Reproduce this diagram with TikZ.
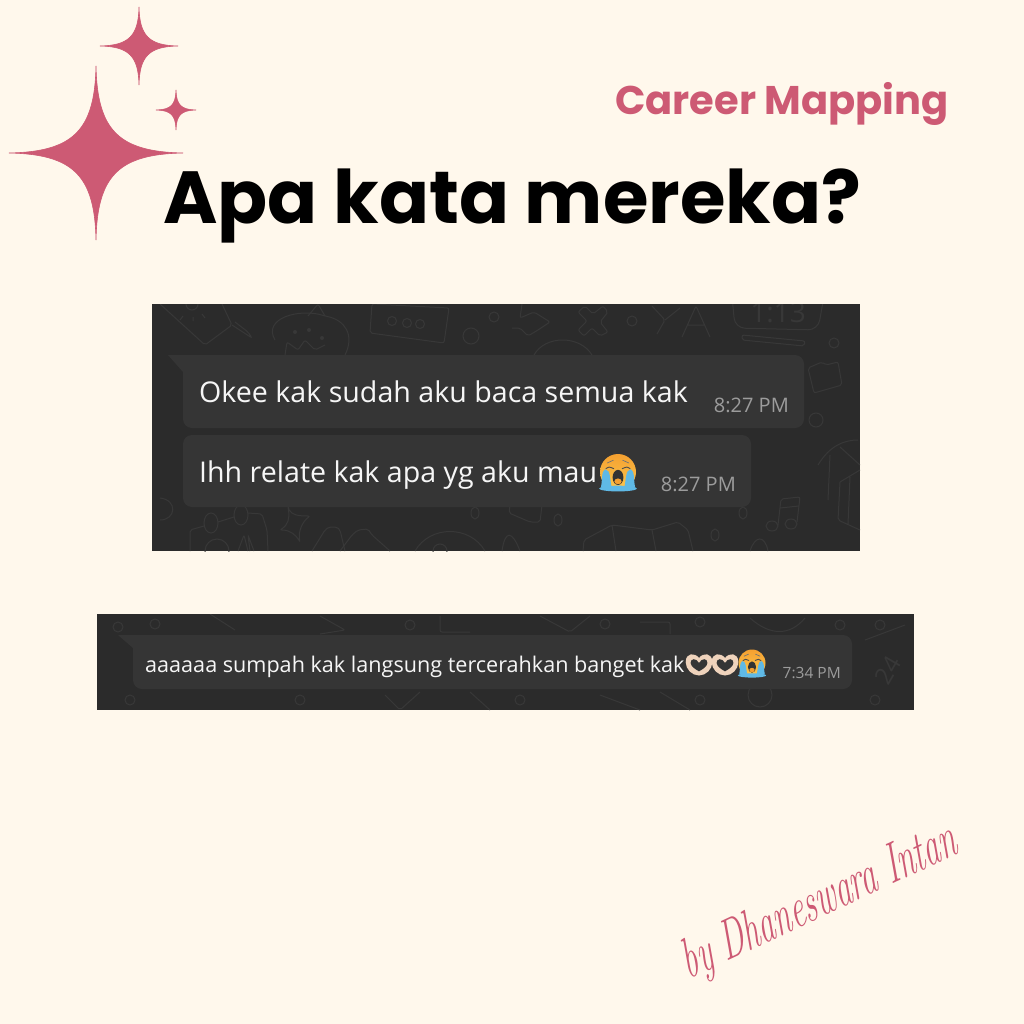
\documentclass[tikz,border=0pt]{standalone}
\usepackage{fontspec}
\setmainfont{Poppins}
\newfontfamily\chatfont{Open Sans}
\newfontfamily\signfont{Latin Modern Roman}
\definecolor{paper}{HTML}{FFF8EC}
\definecolor{rosepink}{HTML}{CD5A74}
\definecolor{panelgrey}{HTML}{2B2B2B}
\definecolor{bubblegrey}{HTML}{353535}
\definecolor{doodlegrey}{HTML}{383838}
\definecolor{timegrey}{HTML}{9C9C9C}
\definecolor{chatwhite}{HTML}{F6F6F6}
\definecolor{faceyellow}{HTML}{FBC84F}
\definecolor{faceorange}{HTML}{F5A030}
\definecolor{tearblue}{HTML}{5FB9E6}
\definecolor{handpeach}{HTML}{EFD3BC}
\tikzset{
	panelbox/.style={fill=panelgrey,inner sep=0pt,outer sep=0pt},
	bubblebox/.style={fill=bubblegrey,rounded corners=9pt,inner sep=0pt},
	doodle/.style={draw=doodlegrey,line width=1pt,rounded corners=2pt},
	msgbig/.style={text=chatwhite,inner sep=0pt,anchor=base west,font=\chatfont\fontsize{28.6}{32}\selectfont},
	msgsmall/.style={text=chatwhite,inner sep=0pt,anchor=base west,font=\chatfont\fontsize{21.6}{25}\selectfont},
	timebig/.style={text=timegrey,inner sep=0pt,anchor=base east,font=\chatfont\fontsize{20}{24}\selectfont},
	timesmall/.style={text=timegrey,inner sep=0pt,anchor=base east,font=\chatfont\fontsize{15.5}{18}\selectfont},
	sparkle/.pic={
		\fill[rosepink,draw=rosepink,line width=0.6pt] (0,-1) .. controls (0.015,-0.26) and (0.26,-0.015) .. (1,0)
			.. controls (0.26,0.015) and (0.015,0.26) .. (0,1)
			.. controls (-0.015,0.26) and (-0.26,0.015) .. (-1,0)
			.. controls (-0.26,-0.015) and (-0.015,-0.26) .. cycle;
	},
	cryface/.pic={
		\shade[top color=faceorange,bottom color=faceyellow] (0,0) circle (1);
		\fill[tearblue] (-0.72,-0.15) .. controls (-0.4,-0.15) and (-0.45,0.5) .. (-0.35,0.85) -- (-0.95,0.85) .. controls (-0.85,0.4) and (-0.95,0) .. cycle;
		\fill[tearblue] (0.72,-0.15) .. controls (0.4,-0.15) and (0.45,0.5) .. (0.35,0.85) -- (0.95,0.85) .. controls (0.85,0.4) and (0.95,0) .. cycle;
		\fill[tearblue] (0,0.92) ellipse (1.05 and 0.16);
		\fill[black!80] (0,0.3) ellipse (0.3 and 0.42);
		\fill[faceorange] (0,0.52) ellipse (0.2 and 0.16);
		\draw[black!70,line width=0.9pt] (-0.68,-0.18) .. controls (-0.5,-0.3) .. (-0.22,-0.18) (0.68,-0.18) .. controls (0.5,-0.3) .. (0.22,-0.18);
		\draw[black!55,line width=0.7pt] (-0.6,-0.5) -- (-0.25,-0.66) (0.6,-0.5) -- (0.25,-0.66);
	},
	handheart/.pic={
		\fill[handpeach] (0,-0.5) .. controls (-0.3,-0.9) and (-0.95,-0.9) .. (-0.95,-0.2)
			.. controls (-0.95,0.3) and (-0.5,0.75) .. (0,0.75)
			.. controls (0.5,0.75) and (0.95,0.3) .. (0.95,-0.2)
			.. controls (0.95,-0.9) and (0.3,-0.9) .. cycle;
		\fill[bubblegrey] (0,-0.15) .. controls (-0.2,-0.5) and (-0.6,-0.5) .. (-0.6,-0.15)
			.. controls (-0.6,0.1) and (-0.2,0.35) .. (0,0.45)
			.. controls (0.2,0.35) and (0.6,0.1) .. (0.6,-0.15)
			.. controls (0.6,-0.5) and (0.2,-0.5) .. cycle;
	},
}
\begin{document}
\begin{tikzpicture}[x=1pt,y=-1pt]
	\useasboundingbox (0,0) rectangle (1024,1024);
	\fill[paper] (0,0) rectangle (1024,1024);

	\pic[scale=87] at (96,153) {sparkle};
	\pic[scale=39] at (139,46) {sparkle};
	\pic[scale=20] at (176,110) {sparkle};

	\node[text=rosepink,inner sep=0pt,anchor=base east,font=\fontsize{40}{46}\selectfont\bfseries] (careerlabel) at (949,115) {Career Mapping};
	\node[text=black,inner sep=0pt,anchor=base west,font=\fontsize{73.8}{84}\selectfont\bfseries] (titlelabel) at (163,224) {Apa kata mereka?};

	% first screenshot
	\node[panelbox,minimum width=708pt,minimum height=247pt] (panelone) at (506,427.5) {};
	\begin{scope}
		\clip (152,304) rectangle (860,551);
		% brush and sun
		\draw[doodle] (160,304) -- (205,345) -- (232,325) -- (222,304);
		\draw[doodle] (232,325) -- (252,338) -- (248,332) -- (235,322);
		\draw[doodle] (192,304) circle (6);
		\draw[doodle] (183,316) -- (180,320) (193,317) -- (193,321) (202,314) -- (205,318);
		% strawberry
		\draw[doodle] (275,340) .. controls (262,318) and (300,308) .. (325,316) .. controls (345,320) and (355,335) .. (345,355);
		\foreach \cx/\cy in {295/332,309/330,322/338} \fill[doodlegrey] (\cx,\cy) circle (2);
		\draw[doodle] (285,355) -- (287,342) -- (298,350) -- (305,340) -- (315,350) -- (325,345);
		\draw[doodle] (308,316) -- (318,304) -- (325,316);
		% keyboard card
		\draw[doodle] (372,304) -- (449,308) -- (444,343) -- (370,333) -- cycle;
		\foreach \cx/\cy in {392/321,407/323,420/324} \draw[doodle] (\cx,\cy) circle (4.5);
		\draw[doodle] (471,336) circle (8);
		\draw[doodle] (494,317) circle (5);
		% star, cross, letters
		\draw[doodle] (522,304) -- (520,318) -- (534,312) -- (550,322) -- (538,330) -- (528,336) -- (520,328) -- (512,328);
		\draw[doodle] (585,306) -- (593,314) -- (603,306) -- (608,312) -- (600,322) -- (608,332) -- (600,336) -- (592,328) -- (584,336) -- (578,330) -- (587,321) -- (578,312) -- cycle;
		\draw[doodle] (632,321) circle (5);
		\draw[doodle] (652,306) -- (665,320) -- (657,334) (665,320) -- (680,308);
		\draw[doodle] (682,337) -- (696,306) -- (710,337) (688,325) -- (704,325);
		\draw[doodle,rounded corners=10pt] (732,296) -- (735,328) -- (818,330) -- (824,296);
		\node[text=doodlegrey,inner sep=0pt,font=\chatfont\fontsize{28}{30}\selectfont] (doodleclock) at (778,313) {1:13};
		\draw[doodle] (742,335) -- (805,341) -- (804,346) -- (742,340) -- cycle;
		\draw[doodle] (834,343) circle (5);
		\draw[doodle] (808,368) -- (822,362) -- (826,365) -- (838,362) -- (842,385) -- (814,393) -- cycle;
		\draw[doodle] (534,355) .. controls (545,335) and (580,335) .. (592,355);
		% right edge
		\draw[doodle] (816,420) circle (7);
		\draw[doodle] (818,465) .. controls (830,445) and (845,440) .. (858,440) (830,455) -- (828,500) (840,447) -- (860,465);
		\draw[doodle] (840,482) -- (860,470) (840,482) -- (838,520) -- (860,530) (850,477) -- (848,524);
		% note
		\draw[doodle] (778,525) -- (781,499) -- (800,497) -- (797,522) (780,508) -- (799,506);
		\draw[doodle] (772,526) ellipse (6 and 5);
		\draw[doodle] (791,524) ellipse (6 and 5);
		\draw[doodle] (743,513) ellipse (4 and 6);
		\draw[doodle] (715,535) ellipse (4 and 6);
		% bottom row
		\draw[doodle] (160,498) .. controls (178,500) and (176,520) .. (160,520);
		\draw[doodle] (211,523) ellipse (7 and 10);
		\draw[doodle] (241,515) ellipse (7 and 10);
		\draw[doodle] (218,522) -- (234,517) (248,513) -- (262,514) -- (267,530) -- (268,551);
		\draw[doodle] (204,526) -- (190,530) -- (190,551);
		\draw[doodle] (217,551) circle (12);
		\draw[doodle] (238,551) -- (244,535) -- (248,551) (250,551) -- (248,535) -- (254,551);
		\draw[doodle] (288,508) .. controls (292,515) and (298,516) .. (310,516) .. controls (302,522) and (298,532) .. (300,542) .. controls (296,535) and (290,530) .. (280,530) .. controls (288,525) and (290,518) .. cycle;
		\draw[doodle] (312,551) -- (325,530) -- (329,527) -- (337,527) -- (340,530) -- (345,551);
		\draw[doodle] (340,551) -- (352,535) -- (358,530) -- (368,529) -- (372,535) -- (390,551);
		\draw[doodle] (415,551) .. controls (430,525) and (470,525) .. (485,551);
		\draw[doodle] (440,551) circle (7);
		\draw[doodle] (502,551) .. controls (505,530) and (512,530) .. (520,551);
		\draw[doodle] (475,513) ellipse (4 and 6);
		\draw[doodle] (558,520) ellipse (4 and 6);
		\draw[doodle] (510,505) -- (509,513) -- (530,522) -- (540,522) -- (542,505);
		\draw[doodle] (583,551) -- (584,540) -- (612,525) -- (652,530) -- (678,522) -- (688,530) -- (693,551) (612,525) -- (616,551) (652,530) -- (656,551);
		\draw[doodle] (750,551) .. controls (755,535) and (765,535) .. (768,551);
	\end{scope}
	\fill[bubblegrey] (168,355) -- (195,355) -- (190,380) -- (183,372) -- cycle;
	\node[bubblebox,minimum width=621pt,minimum height=73pt] (bubbleone) at (493.5,391.5) {};
	\node[bubblebox,minimum width=568pt,minimum height=72pt] (bubbletwo) at (467,471) {};
	\node[msgbig] (msgone) at (199,402) {Okee kak sudah aku baca semua kak};
	\node[timebig] (timeone) at (789,412) {8:27 PM};
	\node[msgbig] (msgtwo) at (199,482) {Ihh relate kak apa yg aku mau};
	\node[timebig] (timetwo) at (736,491) {8:27 PM};
	\pic[scale=18] at (618,472) {cryface};

	% second screenshot
	\node[panelbox,minimum width=817pt,minimum height=96pt] (paneltwo) at (505.5,662) {};
	\begin{scope}
		\clip (97,614) rectangle (914,710);
		\foreach \cx/\cy in {118/627,155/624,410/625,605/624,700/622,840/625,880/625,130/700,300/700,520/700,700/700,875/700} \draw[doodle] (\cx,\cy) circle (5);
		\draw[doodle] (210,614) -- (235,630) (320,616) -- (345,630) -- (320,634);
		\draw[doodle] (440,616) -- (440,632) -- (470,632);
		\draw[doodle] (540,616) -- (570,632) -- (590,616);
		\draw[doodle] (640,622) -- (670,622) -- (670,634);
		\draw[doodle] (750,618) .. controls (770,636) and (790,636) .. (805,618);
		\draw[doodle] (385,695) -- (400,710) -- (420,692);
		\draw[doodle] (600,695) -- (640,710) (660,692) -- (690,710);
		\draw[doodle] (760,695) circle (12);
		\draw[doodle] (470,692) -- (490,710);
		\draw[doodle] (865,640) -- (905,625);
		\node[text=doodlegrey,rotate=60,inner sep=0pt,font=\chatfont\fontsize{24}{26}\selectfont] (doodlefigure) at (888,670) {24};
	\end{scope}
	\fill[bubblegrey] (118,635) -- (145,635) -- (140,655) -- (133,648) -- cycle;
	\node[bubblebox,minimum width=719pt,minimum height=54pt] (bubblethree) at (492.5,662) {};
	\node[msgsmall] (msgthree) at (145,672) {aaaaaa sumpah kak langsung tercerahkan banget kak};
	\node[timesmall] (timethree) at (841,678) {7:34 PM};
	\pic[scale=14] at (699,665) {handheart};
	\pic[scale=14] at (725,665) {handheart};
	\pic[scale=13.5] at (752,663) {cryface};

	\node[text=rosepink,inner sep=0pt,rotate=25,yscale=1.7,xslant=0.2,font=\signfont\itshape\fontsize{33}{36}\selectfont] (signlabel) at (820,903) {by Dhaneswara Intan};
\end{tikzpicture}
\end{document}
